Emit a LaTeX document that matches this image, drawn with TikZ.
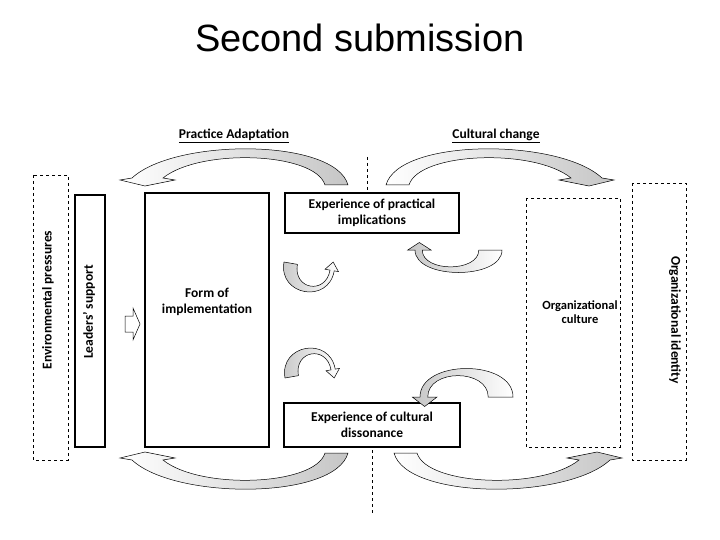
\documentclass[tikz,border=0pt]{standalone}
\usepackage{fontspec}
\setmainfont{Carlito}
\newfontfamily\titlefont{Liberation Sans}
\begin{document}
\begin{tikzpicture}[x=1pt,y=-1pt,
  lbl/.style={font=\bfseries\fontsize{13.5}{15.5}\selectfont,align=center},
  box/.style={draw,line width=1.2pt},
  dbox/.style={draw,dashed,line width=0.5pt},
  rib/.style={draw,line width=0.5pt,left color=gray!45,middle color=white,right color=white},
  bigrib/.style={draw,line width=0.5pt,left color=white,middle color=white,right color=gray!45}]
\useasboundingbox (0,0) rectangle (720,540);
\node[font=\titlefont\fontsize{38}{40}\selectfont] (title) at (360,38) {Second submission};
\node[lbl] (pa) at (234,136) {\underline{Practice Adaptation}};
\node[lbl] (cc) at (496,136) {\underline{Cultural change}};
\draw[dashed] (367,157) -- (367,190);
\draw[dashed] (372,450) -- (372,515);
% boxes
\draw[dbox] (33,175) rectangle (68,460);
\node[lbl,rotate=90] (env) at (48,300) {Environmental pressures};
\draw[box] (75,195) rectangle (105,447);
\node[lbl,rotate=90] (lead) at (89,312) {Leaders' support};
\draw[box] (145,193) rectangle (269,447);
\node[lbl] (form) at (207,302) {Form of\\implementation};
\node[box,minimum width=174pt,minimum height=40pt,lbl] (epi) at (372,213) {Experience of practical\\implications};
\node[box,minimum width=176pt,minimum height=44pt,lbl] (ecd) at (372,425) {Experience of cultural\\dissonance};
\draw[dbox] (526,198) rectangle (620,447);
\node[lbl,font=\bfseries\fontsize{12.5}{14.5}\selectfont] (oc) at (580,312) {Organizational\\culture};
\draw[dbox] (632,183) rectangle (686,460);
\node[lbl,rotate=-90] (oi) at (675,320) {Organizational identity};
% small right arrow
\draw[line width=0.5pt] (125,316) -- (133,316) -- (133,308) -- (140,324) -- (133,340) -- (133,332) -- (125,332) -- cycle;
% big arrows
\def\bigarrow{(325,185) .. controls (315,152) and (200,148) .. (163,178) -- (175,180) -- (145,186) -- (120,180) -- (132,178) .. controls (175,138) and (335,138) .. (348,185) -- cycle}
\path[bigrib] \bigarrow;
\begin{scope}[shift={(734,0)},xscale=-1]
\path[bigrib] \bigarrow;
\end{scope}
\begin{scope}[shift={(0,638)},yscale=-1]
\path[bigrib] \bigarrow;
\end{scope}
\begin{scope}[shift={(742,638)},xscale=-1,yscale=-1]
\path[bigrib] \bigarrow;
\end{scope}
% small arrows
\def\smallarrow{(0,0) .. controls (0,40) and (60,40) .. (60,0) -- (65,0) -- (57,-10) -- (49,0) -- (55,0) .. controls (55,30) and (16,30) .. (16,0) -- cycle}
\begin{scope}[shift={(284,262)},rotate=-10,scale=0.85]
\path[rib] \smallarrow;
\end{scope}
\begin{scope}[shift={(502,250)},xscale=-1.45,yscale=0.75]
\path[rib] \smallarrow;
\end{scope}
\begin{scope}[shift={(285,378)},rotate=10,xscale=0.85,yscale=-0.85]
\path[rib] \smallarrow;
\end{scope}
\begin{scope}[shift={(513,397)},xscale=-1.55,yscale=-0.95]
\path[rib] \smallarrow;
\end{scope}
\end{tikzpicture}
\end{document}
